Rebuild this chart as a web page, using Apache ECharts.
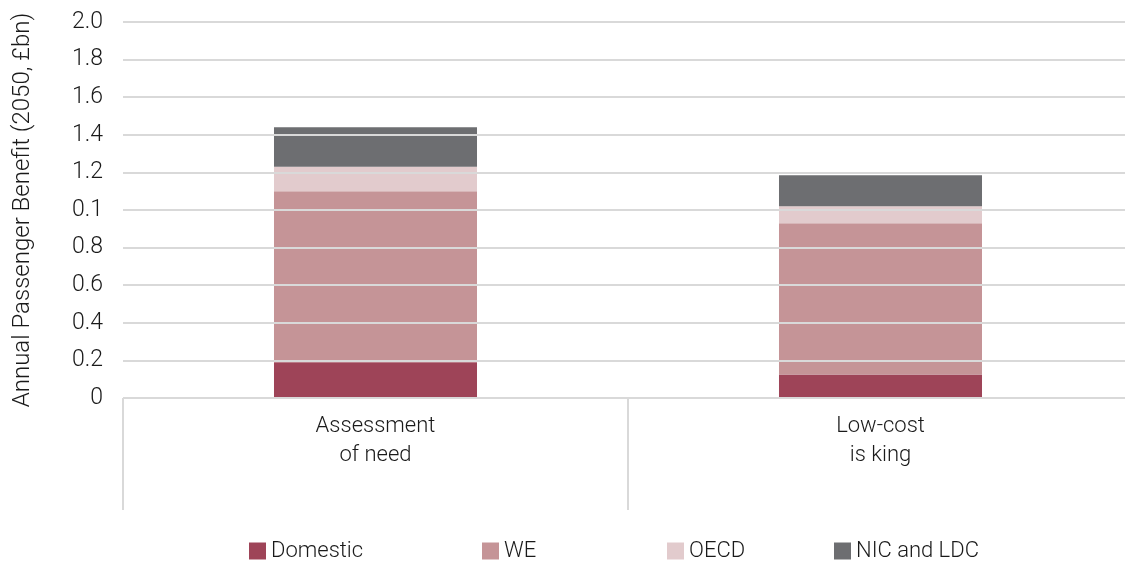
<!DOCTYPE html>
<html>
<head>
<meta charset="utf-8">
<script src="https://cdn.jsdelivr.net/npm/echarts@6/dist/echarts.min.js"></script>
<style>
  html, body { margin: 0; padding: 0; background: #fff; }
  #chart { width: 1125px; height: 561px; }
</style>
</head>
<body>
<div id="chart"></div>
<script>
// data
const categories = ["Assessment\nof need", "Low-cost\nis king"];
const domestic = [0.19, 0.125];
const we = [0.91, 0.805];
const oecd = [0.13, 0.09];
const nicLdc = [0.21, 0.165];
// tick labels as printed (the 1.0 tick reads "0.1" in the original)
const yTickLabels = ["0", "0.2", "0.4", "0.6", "0.8", "0.1", "1.2", "1.4", "1.6", "1.8", "2.0"];

const seriesNames = ["Domestic", "WE", "OECD", "NIC and LDC"];
const colors = ["#9e4458", "#c59497", "#e2cbcd", "#6d6e71"];
const legendLeft = [244, 477, 662, 829];

const font = "Roboto";
const chart = echarts.init(document.getElementById("chart"));

// one legend per item so each can sit where the original puts it
const legends = seriesNames.map((name, i) => ({
  data: [name],
  left: legendLeft[i],
  top: 535,
  itemWidth: 17,
  itemHeight: 17,
  itemGap: 0,
  icon: "rect",
  textStyle: { fontFamily: font, fontWeight: 300, fontSize: 22, color: "#1a1a1a", padding: [0, 0, 0, 0] },
}));

const option = {
  animation: false,
  color: colors,
  legend: legends,
  grid: { left: 123, width: 1010, top: 22, bottom: 163, containLabel: false, outerBoundsMode: "none" },
  xAxis: {
    type: "category",
    data: categories,
    axisLine: { show: false },
    axisTick: { show: true, length: 112, lineStyle: { color: "#d9d9d9", width: 2 } },
    axisLabel: {
      interval: 0,
      margin: 14,
      fontFamily: font,
      fontWeight: 300,
      fontSize: 22,
      lineHeight: 29,
      color: "#1a1a1a",
    },
  },
  yAxis: {
    type: "value",
    min: 0,
    max: 2,
    interval: 0.2,
    z: 3, // grid lines over the bars, as in the original
    name: "Annual Passenger Benefit (2050, £bn)",
    nameLocation: "middle",
    nameGap: 88,
    nameTextStyle: { fontFamily: font, fontWeight: 300, fontSize: 24, color: "#1a1a1a" },
    axisLine: { show: false },
    axisTick: { show: false },
    splitLine: { lineStyle: { color: "#d9d9d9", width: 2 } },
    axisLabel: {
      margin: 20,
      fontFamily: font,
      fontWeight: 300,
      fontSize: 23,
      color: "#1a1a1a",
      formatter: (v, i) => yTickLabels[i],
    },
  },
  series: [domestic, we, oecd, nicLdc].map((d, i) => ({
    name: seriesNames[i],
    type: "bar",
    stack: "total",
    barWidth: "40.2%",
    data: d,
  })),
};

chart.setOption(option);
</script>
</body>
</html>
